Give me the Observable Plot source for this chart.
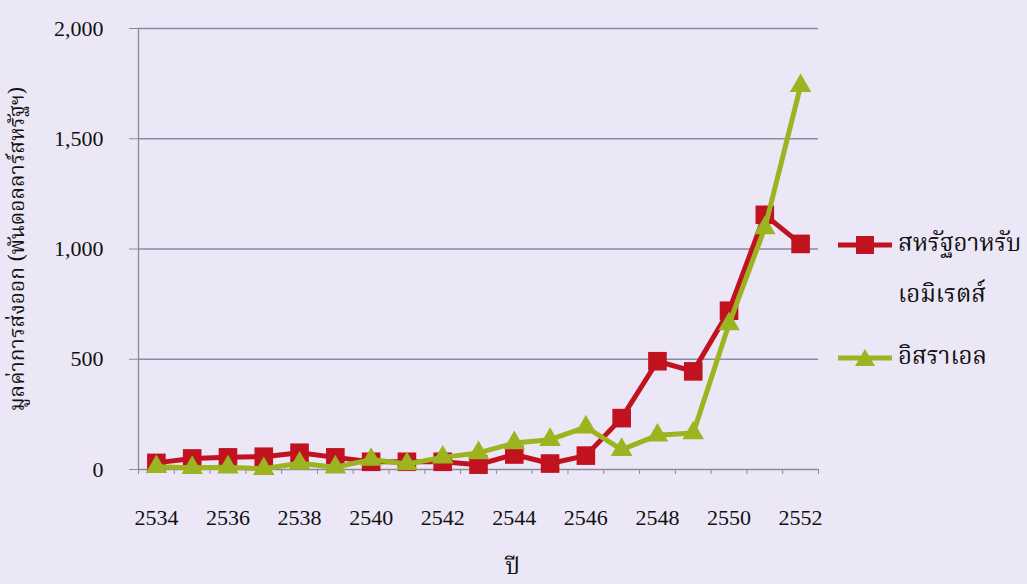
<!DOCTYPE html>
<html><head><meta charset="utf-8">
<script src="https://cdn.jsdelivr.net/npm/d3@7"></script>
<script src="https://cdn.jsdelivr.net/npm/@observablehq/plot@0.6"></script>
<style>
html,body{margin:0;padding:0;background:#ece7f6;}
#wrap{position:relative;width:1027px;height:584px;overflow:hidden;}
.thai, g[aria-label$="axis label"] text{font-family:"Noto Serif Thai","Noto Sans Thai","Loma","Garuda","Tlwg Typo","Sarabun",sans-serif;}
g[aria-label="y-axis label"] text{font-size:21px;}
g[aria-label="x-axis label"] text{font-size:23px;}
.lg{position:absolute;display:flex;align-items:center;font-size:24px;color:#111;white-space:nowrap;}
.lg svg{margin-right:6px;}
.lgtxt{position:absolute;font-size:24px;color:#111;white-space:nowrap;}
</style>
</head><body>
<div id="wrap"></div>
<script>
const years = [2534,2535,2536,2537,2538,2539,2540,2541,2542,2543,2544,2545,2546,2547,2548,2549,2550,2551,2552];
const uae = [30,50,55,58,76,55,35,35,35,22,68,27,63,233,491,445,720,1155,1023];
const israel = [12,8,10,3,28,10,45,25,55,75,120,135,192,90,155,165,660,1095,1740];
const yTicks = [0,500,1000,1500,2000];
const labelYears = [2534,2536,2538,2540,2542,2544,2546,2548,2550,2552];
const seriesNames = ["สหรัฐอาหรับ\nเอมิเรตส์","อิสราเอล"];
const yLabel = "มูลค่าการส่งออก (พันดอลลาร์สหรัฐฯ)";
const xLabel = "ปี";
const red = "#c0121f", green = "#9bb41f";

const uaeData = years.map((year,i)=>({year, value: uae[i]}));
const isrData = years.map((year,i)=>({year, value: israel[i]}));
const bounds = years.map(y=>y-0.5).concat([years[years.length-1]+0.5]);

const chart = Plot.plot({
  width:1027, height:584,
  marginLeft:138, marginRight:209, marginTop:28, marginBottom:115,
  style:{background:"transparent", fontFamily:"'Liberation Serif','Times New Roman',serif", fontSize:"22px", color:"#111", overflow:"visible"},
  x:{domain:[bounds[0], bounds[bounds.length-1]]},
  y:{domain:[0,2000]},
  marks:[
    Plot.gridY(yTicks.filter(d=>d>0), {stroke:"#8a8aa6", strokeOpacity:1, strokeWidth:1.3}),
    Plot.ruleX([bounds[0]], {stroke:"#8a8a9c", strokeWidth:1.3}),
    Plot.ruleY([0], {stroke:"#8a8a9c", strokeWidth:1.3}),
    Plot.axisY({ticks:yTicks, tickFormat:d3.format(","), tickSize:9, tickPadding:26, stroke:"#8a8a9c",
      label:yLabel, labelAnchor:"center", labelOffset:129, labelArrow:"none"}),
    Plot.axisX({ticks:bounds, tickSize:5, tickFormat:()=>"", stroke:"#8a8a9c", label:null}),
    Plot.axisX({ticks:labelYears, tickSize:0, tickPadding:40, tickFormat:d=>String(d),
      label:xLabel, labelAnchor:"center", labelOffset:104, labelArrow:"none"}),
    Plot.line(uaeData, {x:"year", y:"value", stroke:red, strokeWidth:5}),
    Plot.dot(uaeData, {x:"year", y:"value", symbol:"square", r:10.5, fill:red}),
    Plot.line(isrData, {x:"year", y:"value", stroke:green, strokeWidth:5}),
    Plot.dot(isrData, {x:"year", y:"value", symbol:"triangle", r:8, fill:green})
  ]
});
const wrap = document.getElementById("wrap");
wrap.appendChild(chart);
// the reference centres the x title on the whole picture, not on the frame
const xl = chart.querySelector('g[aria-label="x-axis label"]');
if (xl) xl.setAttribute("transform", "translate(34,0) " + (xl.getAttribute("transform") || ""));

function marker(color, sym){
  const s = sym==="square"
    ? `<rect x="18" y="3" width="18" height="18" fill="${color}"/>`
    : `<polygon points="27,3 37,20 17,20" fill="${color}"/>`;
  return `<svg width="54" height="24"><line x1="0" x2="54" y1="12" y2="12" stroke="${color}" stroke-width="5"/>${s}</svg>`;
}
const [n1a, n1b] = seriesNames[0].split("\n");
const l1 = document.createElement("div");
l1.className = "lg thai"; l1.style.left="838px"; l1.style.top="225px";
l1.innerHTML = marker(red,"square") + `<span>${n1a}</span>`;
wrap.appendChild(l1);
const l1b = document.createElement("div");
l1b.className = "lgtxt thai"; l1b.style.left="898px"; l1b.style.top="276px";
l1b.textContent = n1b;
wrap.appendChild(l1b);
const l2 = document.createElement("div");
l2.className = "lg thai"; l2.style.left="838px"; l2.style.top="338px";
l2.innerHTML = marker(green,"triangle") + `<span>${seriesNames[1]}</span>`;
wrap.appendChild(l2);
</script>
</body></html>
